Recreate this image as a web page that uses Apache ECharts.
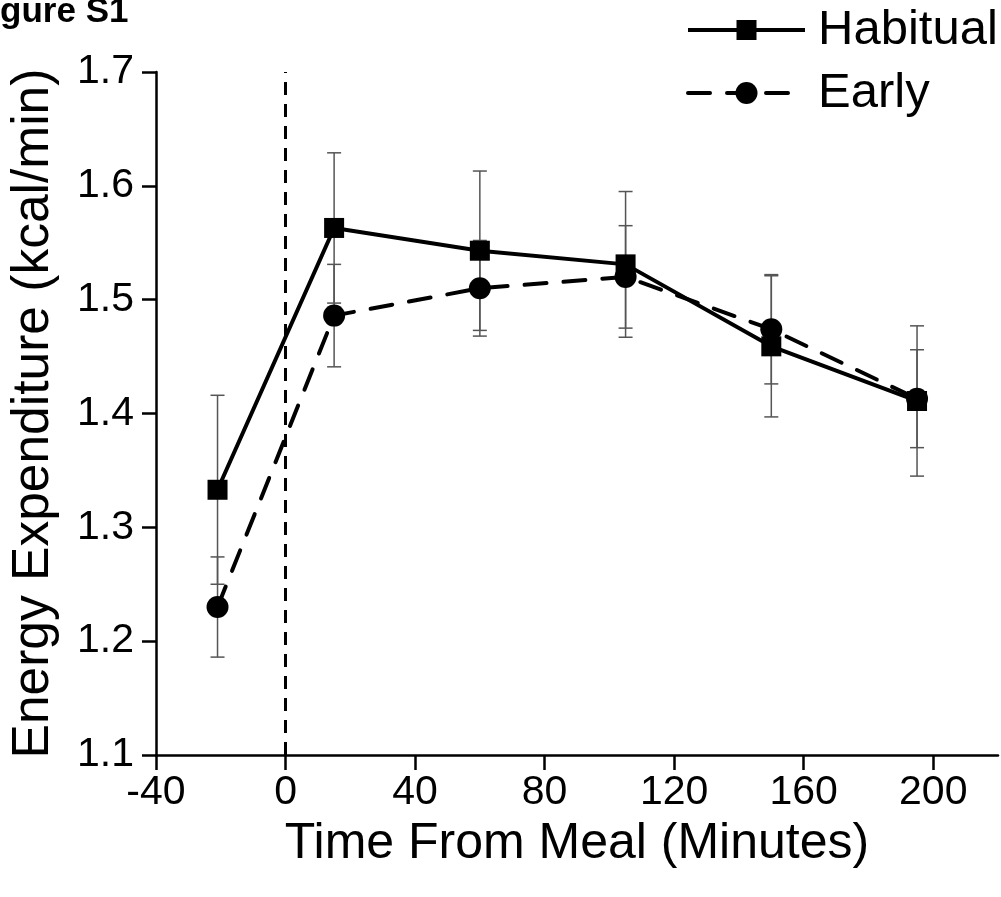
<!DOCTYPE html>
<html><head><meta charset="utf-8">
<script src="https://cdn.jsdelivr.net/npm/echarts@6/dist/echarts.min.js"></script>
<style>html,body{margin:0;padding:0;background:#fff}#c{width:1001px;height:897px}</style>
</head><body><div id="c"></div>
<script>
var timePoints = [-21, 15, 60, 105, 150, 195];
var habitual = [1.333, 1.563, 1.543, 1.531, 1.459, 1.411];
var habitualErr = [0.083, 0.066, 0.070, 0.064, 0.062, 0.066];
var early = [1.230, 1.486, 1.510, 1.520, 1.474, 1.413];
var earlyErr = [0.044, 0.045, 0.042, 0.045, 0.048, 0.043];
var xTicks = [-40, 0, 40, 80, 120, 160, 200];
var yTicks = [1.1, 1.2, 1.3, 1.4, 1.5, 1.6, 1.7];
var mealTime = 0;
var seriesNames = ['Habitual', 'Early'];

var FONT = '"Liberation Sans", Arial, sans-serif';
function pairs(v){ return timePoints.map(function(t,i){return [t, v[i]];}); }
function errData(v, e){ return timePoints.map(function(t,i){return [t, v[i]-e[i], v[i]+e[i]];}); }
function errRender(params, api){
  var x = api.value(0);
  var lo = api.coord([x, api.value(1)]);
  var hi = api.coord([x, api.value(2)]);
  var w = 7;
  var st = {stroke:'#555', lineWidth:1.5};
  return {type:'group', children:[
    {type:'line', shape:{x1:lo[0],y1:lo[1],x2:hi[0],y2:hi[1]}, style:st},
    {type:'line', shape:{x1:lo[0]-w,y1:lo[1],x2:lo[0]+w,y2:lo[1]}, style:st},
    {type:'line', shape:{x1:hi[0]-w,y1:hi[1],x2:hi[0]+w,y2:hi[1]}, style:st}
  ]};
}
// manual legend
var LX = 688, LW = 117, LY1 = 30, LY2 = 93;
var legendGraphics = [
  {type:'line', shape:{x1:LX, y1:LY1, x2:LX+LW, y2:LY1}, style:{stroke:'#000', lineWidth:4}},
  {type:'rect', shape:{x:LX+LW/2-10, y:LY1-10, width:20, height:20}, style:{fill:'#000'}},
  {type:'text', x:818, y:LY1, style:{text:seriesNames[0], font:'49px ' + FONT, fill:'#000', verticalAlign:'middle'}},
  {type:'line', shape:{x1:LX, y1:LY2, x2:LX+LW, y2:LY2}, style:{stroke:'#000', lineWidth:4, lineDash:[22,17], lineCap:'round'}},
  {type:'circle', shape:{cx:LX+LW/2, cy:LY2, r:11}, style:{fill:'#000'}},
  {type:'text', x:818, y:LY2, style:{text:seriesNames[1], font:'49px ' + FONT, fill:'#000', verticalAlign:'middle'}},
  {type:'text', x:-31, y:-5, style:{text:'Figure S1', font:'bold 35px ' + FONT, fill:'#000', verticalAlign:'top'}}
];
var chart = echarts.init(document.getElementById('c'), null, {renderer:'canvas'});
chart.setOption({
  animation:false,
  backgroundColor:'#fff',
  textStyle:{fontFamily:FONT},
  grid:{left:153, right:3, top:72, bottom:142, containLabel:false},
  graphic:legendGraphics,
  xAxis:{
    type:'value', min:-40, max:220, interval:40,
    name:'Time From Meal (Minutes)', nameLocation:'middle', nameGap:64,
    nameTextStyle:{fontSize:50, color:'#000', fontFamily:FONT},
    axisLine:{onZero:false, lineStyle:{color:'#000', width:2.5}},
    axisTick:{show:true, length:15, lineStyle:{color:'#000', width:2.5}, customValues:xTicks},
    axisLabel:{fontSize:41, color:'#000', margin:17, fontFamily:FONT, customValues:xTicks},
    splitLine:{show:false}
  },
  yAxis:{
    type:'value', min:1.1, max:1.7, interval:0.1,
    name:'Energy Expenditure (kcal/min)', nameLocation:'middle', nameGap:96,
    nameTextStyle:{fontSize:51.5, color:'#000', fontFamily:FONT},
    axisLine:{show:true, onZero:false, lineStyle:{color:'#000', width:2.5}},
    axisTick:{show:true, length:14, lineStyle:{color:'#000', width:2.5}, customValues:yTicks},
    axisLabel:{fontSize:41, color:'#000', margin:22, fontFamily:FONT, customValues:yTicks,
      formatter:function(v){return Number(v).toFixed(1);}},
    splitLine:{show:false}
  },
  series:[
    {type:'custom', name:'errEarly', renderItem:errRender, data:errData(early, earlyErr), z:1, silent:true},
    {type:'custom', name:'errHab', renderItem:errRender, data:errData(habitual, habitualErr), z:1, silent:true},
    {type:'line', name:seriesNames[1], data:pairs(early), symbol:'circle', symbolSize:22,
      itemStyle:{color:'#000'}, lineStyle:{color:'#000', width:4, type:[22,17], cap:'round'}, z:3,
      markLine:{silent:true, symbol:'none', label:{show:false},
        lineStyle:{color:'#000', width:3, type:[13,9]}, data:[{xAxis:mealTime}]}},
    {type:'line', name:seriesNames[0], data:pairs(habitual), symbol:'rect', symbolSize:20,
      itemStyle:{color:'#000'}, lineStyle:{color:'#000', width:4}, z:4}
  ]
});
</script></body></html>
